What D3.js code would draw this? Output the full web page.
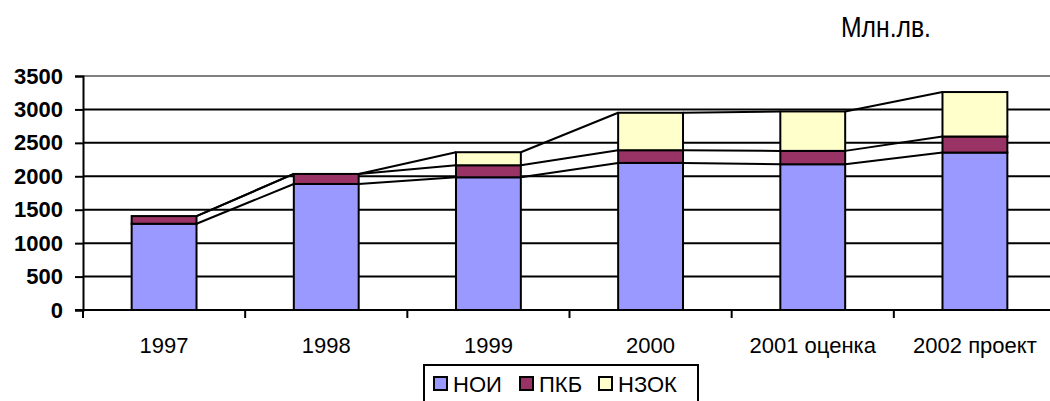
<!DOCTYPE html>
<html>
<head>
<meta charset="utf-8">
<script src="https://cdn.jsdelivr.net/npm/d3@7"></script>
<style>
  body { margin: 0; background: #fff; }
  text { font-family: Arial, "Liberation Sans", sans-serif; }
</style>
</head>
<body>
<div id="chart"></div>
<script>
// data
var years = ["1997", "1998", "1999", "2000", "2001 оценка", "2002 проект"];
var noi  = [1290, 1885, 1985, 2200, 2180, 2355];
var pkb  = [115, 150, 180, 190, 200, 240];
var nzok = [0, 0, 195, 560, 590, 665];
var seriesNames = ["НОИ", "ПКБ", "НЗОК"];
var seriesColors = ["#9999FF", "#993366", "#FFFFCC"];
var yTicks = [0, 500, 1000, 1500, 2000, 2500, 3000, 3500];

var svgWidth = 1050, svgHeight = 401;
var margin = { top: 76, left: 83, bottom: 91 };
var plotRight = 1056;

var svg = d3.select("#chart").append("svg")
    .attr("width", svgWidth)
    .attr("height", svgHeight);

// build rows for the stack
var rows = years.map(function(y, i) {
  return { year: y, "НОИ": noi[i], "ПКБ": pkb[i], "НЗОК": nzok[i] };
});
var stacked = d3.stack().keys(seriesNames)(rows);

var x = d3.scaleBand()
    .domain(years)
    .range([margin.left, plotRight])
    .padding(0);
var y = d3.scaleLinear()
    .domain([0, 3500])
    .range([svgHeight - margin.bottom, margin.top]);

var barW = x.bandwidth() / 2.5;
function barLeft(d) { return x(d) + (x.bandwidth() - barW) / 2; }

// gridlines
svg.append("g").selectAll("line")
  .data(yTicks)
  .enter().append("line")
    .attr("x1", margin.left).attr("x2", plotRight)
    .attr("y1", function(d) { return y(d); })
    .attr("y2", function(d) { return y(d); })
    .attr("stroke", function(d) { return d === 3500 ? "#808080" : "#000"; })
    .attr("stroke-width", 2);

// series lines between bars
stacked.forEach(function(layer) {
  for (var i = 0; i < years.length - 1; i++) {
    svg.append("line")
      .attr("x1", barLeft(years[i]) + barW)
      .attr("y1", y(layer[i][1]))
      .attr("x2", barLeft(years[i + 1]))
      .attr("y2", y(layer[i + 1][1]))
      .attr("stroke", "#000")
      .attr("stroke-width", 2);
  }
});

// bars
svg.append("g").selectAll("g")
  .data(stacked)
  .enter().append("g")
    .attr("fill", function(d, i) { return seriesColors[i]; })
  .selectAll("rect")
  .data(function(d) { return d.filter(function(s) { return s[1] > s[0]; }); })
  .enter().append("rect")
    .attr("x", function(d) { return barLeft(d.data.year); })
    .attr("width", barW)
    .attr("y", function(d) { return y(d[1]); })
    .attr("height", function(d) { return y(d[0]) - y(d[1]); })
    .attr("stroke", "#000")
    .attr("stroke-width", 2);

// y axis
var yAxis = svg.append("g")
    .attr("transform", "translate(" + margin.left + ",0)")
    .call(d3.axisLeft(y).tickValues(yTicks).tickFormat(d3.format("d")).tickSize(8).tickPadding(12));
yAxis.select(".domain").attr("stroke", "#000").attr("stroke-width", 2);
yAxis.selectAll(".tick line").attr("stroke", "#000").attr("stroke-width", 2);
yAxis.selectAll(".tick text")
    .attr("font-size", "22px")
    .attr("font-weight", "bold")
    .attr("fill", "#000")
    .attr("font-family", "Arial, 'Liberation Sans', sans-serif");

// x axis: line + boundary ticks + labels
var x0 = y(0);
svg.append("line")
    .attr("x1", margin.left - 8).attr("x2", plotRight)
    .attr("y1", x0).attr("y2", x0)
    .attr("stroke", "#000").attr("stroke-width", 2);
var bounds = years.map(function(d) { return x(d); }).concat([plotRight]);
svg.append("g").selectAll("line")
  .data(bounds)
  .enter().append("line")
    .attr("x1", function(d) { return d; }).attr("x2", function(d) { return d; })
    .attr("y1", x0).attr("y2", x0 + 8)
    .attr("stroke", "#000").attr("stroke-width", 2);
svg.append("g").selectAll("text")
  .data(years)
  .enter().append("text")
    .attr("x", function(d) { return x(d) + x.bandwidth() / 2; })
    .attr("y", 353)
    .attr("text-anchor", "middle")
    .attr("font-size", "22px")
    .text(function(d) { return d; });

// unit label
svg.append("text")
    .attr("x", 841).attr("y", 37)
    .attr("font-size", "29px")
    .attr("textLength", 90)
    .attr("lengthAdjust", "spacingAndGlyphs")
    .text("Млн.лв.");

// legend
var legend = svg.append("g");
legend.append("rect")
    .attr("x", 424).attr("y", 365)
    .attr("width", 274).attr("height", 50)
    .attr("fill", "#fff")
    .attr("stroke", "#000").attr("stroke-width", 2);
var legendX = [433, 519, 598];
var item = legend.selectAll("g.item")
  .data(seriesNames)
  .enter().append("g")
    .attr("class", "item")
    .attr("transform", function(d, i) { return "translate(" + legendX[i] + ",376)"; });
item.append("rect")
    .attr("x", 1).attr("y", 1)
    .attr("width", 13).attr("height", 13)
    .attr("fill", function(d, i) { return seriesColors[i]; })
    .attr("stroke", "#000").attr("stroke-width", 2);
item.append("text")
    .attr("x", 20).attr("y", 16)
    .attr("font-size", "22px")
    .text(function(d) { return d; });
</script>
</body>
</html>
